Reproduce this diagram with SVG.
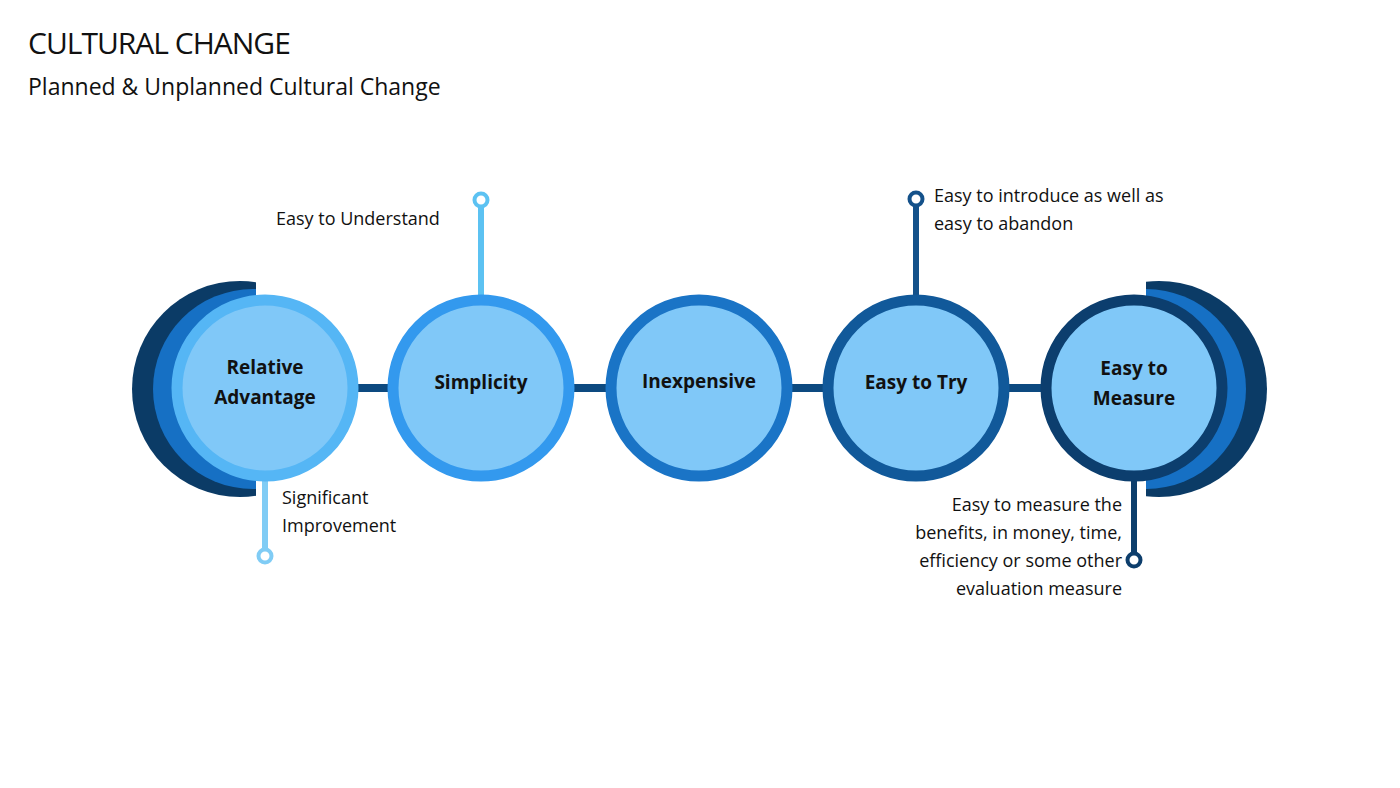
<svg xmlns="http://www.w3.org/2000/svg" width="1400" height="788" viewBox="0 0 1400 788">
<style>
text{font-family:"Open Sans","Liberation Sans",sans-serif;fill:#111}
.lbl{font-size:19px;font-weight:bold;text-anchor:middle}
.note{font-size:18px}
.node{fill:#80C8F8;stroke-width:11}
</style>
<defs>
<clipPath id="cl"><rect x="0" y="0" width="256" height="788"/></clipPath>
<clipPath id="cr"><rect x="1146" y="0" width="300" height="788"/></clipPath>
</defs>
<rect width="1400" height="788" fill="#fff"/>
<text x="28" y="54" style="font-size:30px;letter-spacing:-1px">CULTURAL CHANGE</text>
<text x="28" y="95" style="font-size:23px">Planned &amp; Unplanned Cultural Change</text>
<g id="connectors" stroke="#0D4A80" stroke-width="8" fill="none">
<line x1="350" y1="388" x2="400" y2="388"/>
<line x1="570" y1="388" x2="615" y2="388"/>
<line x1="785" y1="388" x2="830" y2="388"/>
<line x1="1005" y1="388" x2="1050" y2="388"/>
<line x1="265" y1="475" x2="265" y2="550" stroke="#80CCF5" stroke-width="6"/>
<circle cx="265" cy="556" r="6.5" fill="#fff" stroke="#80CCF5" stroke-width="4"/>
<line x1="481" y1="300" x2="481" y2="206" stroke="#5CC2F2" stroke-width="6"/>
<circle cx="481" cy="200" r="6.5" fill="#fff" stroke="#5CC2F2" stroke-width="4"/>
<line x1="916" y1="300" x2="916" y2="205" stroke="#14518A" stroke-width="6"/>
<circle cx="916" cy="199" r="6.5" fill="#fff" stroke="#14518A" stroke-width="4"/>
<line x1="1134" y1="475" x2="1134" y2="554" stroke="#0D3E6C" stroke-width="6"/>
<circle cx="1134" cy="560" r="6.5" fill="#fff" stroke="#0D3E6C" stroke-width="4"/>
</g>
<g id="n1">
<g clip-path="url(#cl)">
<circle cx="240" cy="389" r="108" fill="#0B3B66"/>
<circle cx="253" cy="389" r="100" fill="#1670C4"/>
</g>
<circle class="node" cx="265" cy="388" r="88" stroke="#55B6F5"/>
<text class="lbl" x="265" y="374">Relative</text>
<text class="lbl" x="265" y="404">Advantage</text>
</g>
<g id="n2">
<circle class="node" cx="481" cy="388" r="88" stroke="#3399EE"/>
<text class="lbl" x="481" y="389">Simplicity</text>
</g>
<g id="n3">
<circle class="node" cx="699" cy="388" r="88" stroke="#1A74C6"/>
<text class="lbl" x="699" y="388">Inexpensive</text>
</g>
<g id="n4">
<circle class="node" cx="916" cy="388" r="88" stroke="#11599A"/>
<text class="lbl" x="916" y="389">Easy to Try</text>
</g>
<g id="n5">
<g clip-path="url(#cr)">
<circle cx="1159" cy="389" r="108" fill="#0B3B66"/>
<circle cx="1146" cy="389" r="100" fill="#1670C4"/>
</g>
<circle class="node" cx="1134" cy="388" r="88" stroke="#0C3E6E"/>
<text class="lbl" x="1134" y="375">Easy to</text>
<text class="lbl" x="1134" y="405">Measure</text>
</g>
<g id="notes" class="note">
<text class="note" x="276" y="225">Easy to Understand</text>
<text class="note" x="282" y="504">Significant</text>
<text class="note" x="282" y="532">Improvement</text>
<text class="note" x="934" y="202">Easy to introduce as well as</text>
<text class="note" x="934" y="230">easy to abandon</text>
<g style="text-anchor:end">
<text class="note" x="1122" y="511">Easy to measure the</text>
<text class="note" x="1122" y="539">benefits, in money, time,</text>
<text class="note" x="1122" y="567">efficiency or some other</text>
<text class="note" x="1122" y="595">evaluation measure</text>
</g>
</g>
</svg>
